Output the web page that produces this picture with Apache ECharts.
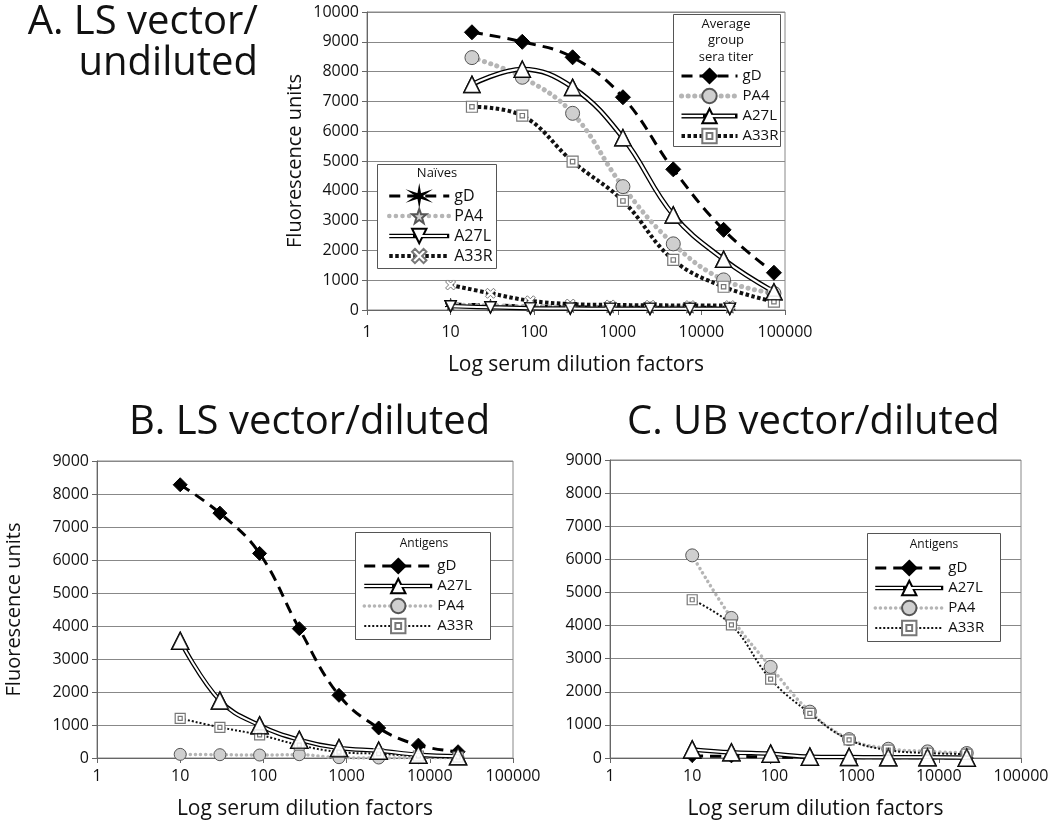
<!DOCTYPE html>
<html><head><meta charset="utf-8">
<script src="https://cdn.jsdelivr.net/npm/echarts@6/dist/echarts.min.js"></script>
<style>html,body{margin:0;padding:0;background:#fff}#c{width:1050px;height:830px}</style>
</head><body><div id="c"></div>
<script>
// ---------- data ----------
const dilAvg = [18, 72, 288, 1152, 4608, 18432, 73728];
const dil3 = [10, 30, 90, 270, 810, 2430, 7290, 21870];
const xTicks = [1, 10, 100, 1000, 10000, 100000];

// Panel A: average group sera titer
const aGD   = [9320, 9000, 8480, 7140, 4720, 2690, 1250];
const aPA4  = [8470, 7810, 6600, 4140, 2220, 1010, 560];
const aA27L = [7570, 8080, 7470, 5780, 3190, 1700, 610];
const aA33R = [6820, 6520, 4980, 3660, 1680, 780, 280];
// Panel A: naives
const nGD   = [200, 170, 130, 110, 100, 90, 90, 90];
const nPA4  = [170, 150, 120, 100, 90, 80, 80, 80];
const nA27L = [130, 90, 60, 50, 40, 40, 40, 40];
const nA33R = [840, 560, 310, 200, 170, 160, 150, 150];
// Panel B: LS vector / diluted
const bGD   = [8280, 7420, 6200, 3920, 1900, 910, 390, 190];
const bA27L = [3550, 1740, 990, 550, 300, 220, 100, 50];
const bPA4  = [110, 100, 90, 100, 10, 0, 10, 0];
const bA33R = [1200, 930, 700, 390, 180, 130, 60, 30];
// Panel C: UB vector / diluted
const cGD   = [60, 50, 30, 20, 10, 10, 0, 0];
const cA27L = [260, 170, 130, 40, 30, 20, 20, 10];
const cPA4  = [6120, 4230, 2750, 1400, 570, 280, 200, 150];
const cA33R = [4780, 4020, 2380, 1350, 550, 240, 150, 120];

// ---------- styles ----------
const FONT = '"Open Sans", "Liberation Sans", sans-serif';
const flower = 'path://M50,0L56,39.6L93.3,25L62,50L93.3,75L56,60.4L50,100L44,60.4L6.7,75L38,50L6.7,25L44,39.6Z';
const star = 'path://M50,0L61.8,33.8L97.6,34.5L69,56.2L79.4,90.5L50,70L20.6,90.5L31,56.2L2.4,34.5L38.2,33.8Z';
const xmark = 'path://M20,0L50,30L80,0L100,20L70,50L100,80L80,100L50,70L20,100L0,80L30,50L0,20Z';
const dsq = 'path://M0,0H100V100H0Z M30,30H70V70H30Z';

const zip = (xs, ys) => xs.map((x, i) => [x, ys[i]]);
const SM = 0.4;

function gdSeries(name, gi, xs, ys, sym, size, w) {
  return [{
    name, type: 'line', xAxisIndex: gi, yAxisIndex: gi, data: zip(xs, ys), smooth: SM, z: 3,
    symbol: sym, symbolSize: size,
    lineStyle: { color: '#000', width: w, type: [11, 7] },
    itemStyle: { color: '#000', borderColor: '#000', borderWidth: 1 }
  }];
}
function pa4Series(name, gi, xs, ys, sym, size, w, gap) {
  return [{
    name, type: 'line', xAxisIndex: gi, yAxisIndex: gi, data: zip(xs, ys), smooth: SM, z: 3,
    symbol: sym, symbolSize: size,
    lineStyle: { color: '#b5b5b5', width: w, type: [0.1, gap], cap: 'round' },
    itemStyle: { color: '#cfcfcf', borderColor: '#555', borderWidth: 1 }
  }];
}
function a33Series(name, gi, xs, ys, sym, size, w, dash, mk) {
  return [{
    name, type: 'line', xAxisIndex: gi, yAxisIndex: gi, data: zip(xs, ys), smooth: SM, z: 3,
    symbol: sym, symbolSize: size,
    lineStyle: { color: '#111', width: w, type: dash },
    itemStyle: mk || { color: '#fff', borderColor: '#777', borderWidth: 1.2 }
  }];
}
function a27Series(name, gi, xs, ys, size, rot, w) {
  const d = zip(xs, ys);
  const item = { color: '#fff', borderColor: '#000', borderWidth: 1.5 };
  return [
    { name, type: 'line', xAxisIndex: gi, yAxisIndex: gi, data: d, smooth: SM, z: 3,
      symbol: 'triangle', symbolRotate: rot, symbolSize: size,
      lineStyle: { color: '#000', width: w }, itemStyle: item },
    { name: name + '~core', type: 'line', xAxisIndex: gi, yAxisIndex: gi, data: d, smooth: SM, z: 4,
      symbol: 'none', silent: true, lineStyle: { color: '#fff', width: w * 0.45 } },
    { name: name + '~m', type: 'scatter', xAxisIndex: gi, yAxisIndex: gi, data: d, z: 5,
      symbol: 'triangle', symbolRotate: rot, symbolSize: size, itemStyle: item, silent: true }
  ];
}

const series = [].concat(
  // A naives
  gdSeries('AN|gD', 0, dil3, nGD, flower, 11, 3),
  pa4Series('AN|PA4', 0, dil3, nPA4, star, 11, 4.5, 6.5),
  a27Series('AN|A27L', 0, dil3, nA27L, 11, 180, 4.5),
  a33Series('AN|A33R', 0, dil3, nA33R, xmark, 10, 4, [3.5, 2.5], { color: '#fff', borderColor: '#777', borderWidth: 1 }),
  // A averages
  gdSeries('A|gD', 0, dilAvg, aGD, 'diamond', 15, 3),
  pa4Series('A|PA4', 0, dilAvg, aPA4, 'circle', 14, 5, 6.5),
  a27Series('A|A27L', 0, dilAvg, aA27L, 16, 0, 5),
  a33Series('A|A33R', 0, dilAvg, aA33R, dsq, 11, 4, [3.5, 2.5]),
  // B
  gdSeries('B|gD', 1, dil3, bGD, 'diamond', 14, 3),
  pa4Series('B|PA4', 1, dil3, bPA4, 'circle', 12, 3.5, 5),
  a27Series('B|A27L', 1, dil3, bA27L, 17, 0, 4.5),
  a33Series('B|A33R', 1, dil3, bA33R, dsq, 10, 2, [2, 2]),
  // C
  gdSeries('C|gD', 2, dil3, cGD, 'diamond', 13, 3),
  pa4Series('C|PA4', 2, dil3, cPA4, 'circle', 13, 3.5, 5),
  a27Series('C|A27L', 2, dil3, cA27L, 17, 0, 4.5),
  a33Series('C|A33R', 2, dil3, cA33R, dsq, 10, 2, [2, 2])
);

// ---------- axes ----------
const grids = [
  { left: 367, top: 12, width: 418, height: 298 },
  { left: 97, top: 461, width: 416, height: 297 },
  { left: 610, top: 460, width: 411, height: 298 }
].map(g => Object.assign(g, { show: true, borderColor: '#888', borderWidth: 1, backgroundColor: 'transparent', containLabel: false, outerBoundsMode: 'none' }));

function xAx(gi, gap, margin) {
  return {
    type: 'log', logBase: 10, gridIndex: gi, min: xTicks[0], max: xTicks[xTicks.length - 1],
    splitNumber: 5,
    axisLine: { show: true, lineStyle: { color: '#666', width: 1 } },
    axisTick: { show: true, length: 5, lineStyle: { color: '#666' } },
    minorTick: { show: false }, splitLine: { show: false },
    axisLabel: { fontFamily: FONT, fontSize: 16, color: '#111', margin,
      formatter: v => String(Math.round(v)) },
    name: 'Log serum dilution factors', nameLocation: 'middle', nameGap: gap,
    nameTextStyle: { fontFamily: FONT, fontSize: 21, color: '#111' }
  };
}
function yAx(gi, max, gap, showName) {
  return {
    type: 'value', gridIndex: gi, min: 0, max, interval: 1000,
    axisLine: { show: true, lineStyle: { color: '#666', width: 1 } },
    axisTick: { show: true, length: 5, lineStyle: { color: '#666' } },
    splitLine: { show: true, lineStyle: { color: '#888', width: 1 } },
    axisLabel: { fontFamily: FONT, fontSize: 16, color: '#111', margin: 8,
      formatter: v => String(Math.round(v)) },
    name: showName ? 'Fluorescence units' : '', nameLocation: 'middle', nameGap: gap,
    nameTextStyle: { fontFamily: FONT, fontSize: 20, color: '#111' }
  };
}

// ---------- legends ----------
function legend(prefix, names, left, top, iw, fs) {
  return {
    show: true, orient: 'vertical', left, top, padding: 0, itemGap: 2,
    itemWidth: iw, itemHeight: 18, selectedMode: false, z: 100,
    lineStyle: { width: 'inherit' },
    data: names.map(n => prefix + '|' + n),
    formatter: n => n.split('|')[1],
    textStyle: { fontFamily: FONT, fontSize: fs, color: '#111', lineHeight: 18 }
  };
}

// white core for the double line of A27L legend icons
function coreLine(x0, x1, y, w) {
  const c = (x0 + x1) / 2;
  return [
    { type: 'line', z: 120, shape: { x1: x0, y1: y, x2: c - 4, y2: y }, style: { stroke: '#fff', lineWidth: w } },
    { type: 'line', z: 120, shape: { x1: c + 4, y1: y, x2: x1, y2: y }, style: { stroke: '#fff', lineWidth: w } }
  ];
}

const boxStyle = { fill: '#fff', stroke: '#555', lineWidth: 1 };
const graphic = [
  { type: 'text', x: 258, y: 3, z: 60, style: { text: 'A. LS vector/', font: '40px ' + FONT, fill: '#111', textAlign: 'right' } },
  { type: 'text', x: 258, y: 44, z: 60, style: { text: 'undiluted', font: '40px ' + FONT, fill: '#111', textAlign: 'right' } },
  { type: 'text', x: 129, y: 403, z: 60, style: { text: 'B. LS vector/diluted', font: '40px ' + FONT, fill: '#111' } },
  { type: 'text', x: 627, y: 403, z: 60, style: { text: 'C. UB vector/diluted', font: '40px ' + FONT, fill: '#111' } },
  // legend boxes
  { type: 'rect', z: 50, shape: { x: 673.5, y: 14.5, width: 107, height: 132 }, style: boxStyle },
  { type: 'text', z: 60, x: 726, y: 16, style: { text: 'Average\ngroup\nsera titer', font: '13px ' + FONT, fill: '#111', textAlign: 'center', lineHeight: 16.5 } },
  { type: 'rect', z: 50, shape: { x: 377.5, y: 164.5, width: 119, height: 104 }, style: boxStyle },
  { type: 'text', z: 60, x: 437, y: 167, style: { text: 'Naïves', font: '13px ' + FONT, fill: '#111', textAlign: 'center' } },
  { type: 'rect', z: 50, shape: { x: 355.5, y: 532.5, width: 135, height: 107 }, style: boxStyle },
  { type: 'text', z: 60, x: 424, y: 538, style: { text: 'Antigens', font: '12px ' + FONT, fill: '#111', textAlign: 'center' } },
  { type: 'rect', z: 50, shape: { x: 867.5, y: 533.5, width: 133, height: 108 }, style: boxStyle },
  { type: 'text', z: 60, x: 934, y: 539, style: { text: 'Antigens', font: '12px ' + FONT, fill: '#111', textAlign: 'center' } }
].concat(
  coreLine(679, 735, 116, 2.2),
  coreLine(387, 447, 236, 2),
  coreLine(362, 430, 586, 2),
  coreLine(873, 941, 588, 2)
);

const option = {
  animation: false,
  backgroundColor: '#fff',
  textStyle: { fontFamily: FONT },
  grid: grids,
  xAxis: [xAx(0, 45, 14), xAx(1, 41, 10), xAx(2, 41, 10)],
  yAxis: [yAx(0, 10000, 62, true), yAx(1, 9000, 73, true), yAx(2, 9000, 60, false)],
  legend: [
    legend('A', ['gD', 'PA4', 'A27L', 'A33R'], 679, 67, 56, 15),
    legend('AN', ['gD', 'PA4', 'A27L', 'A33R'], 387, 187, 60, 16),
    legend('B', ['gD', 'A27L', 'PA4', 'A33R'], 362, 557, 68, 15),
    legend('C', ['gD', 'A27L', 'PA4', 'A33R'], 873, 559, 68, 15)
  ],
  graphic,
  series
};
const chart = echarts.init(document.getElementById('c'), null, { renderer: 'canvas' });
chart.setOption(option);
</script></body></html>
